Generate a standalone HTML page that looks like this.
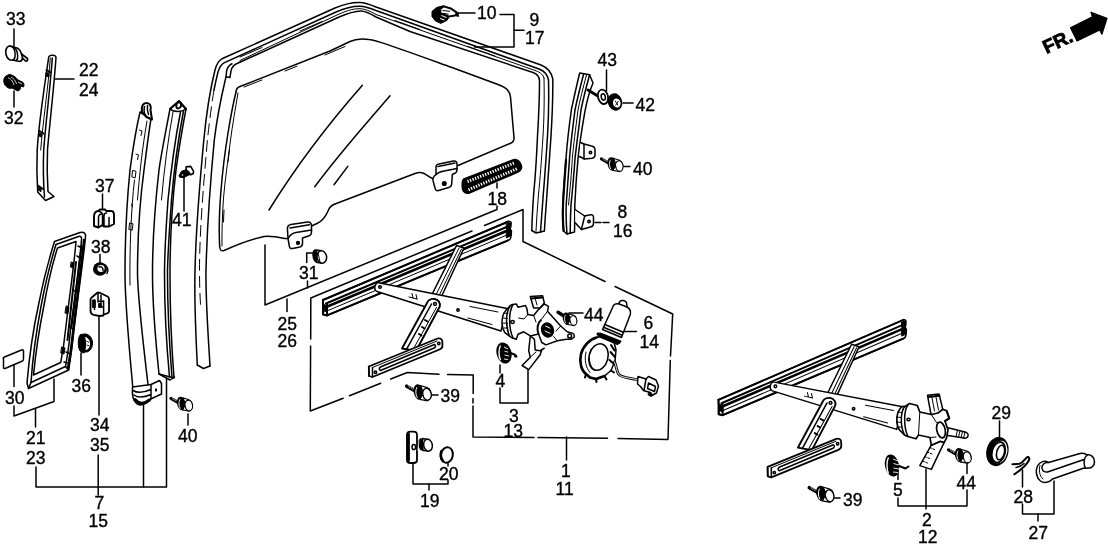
<!DOCTYPE html>
<html>
<head>
<meta charset="utf-8">
<title>Door Window Regulator Diagram</title>
<style>
html,body{margin:0;padding:0;background:#fff;}
body{width:1108px;height:548px;overflow:hidden;font-family:"Liberation Sans",sans-serif;}
svg{display:block;will-change:transform;transform:translateZ(0);}
svg text{font-family:"Liberation Sans",sans-serif;font-size:17.5px;fill:#000;stroke:#000;stroke-width:0.35px;}
.l{stroke:#000;stroke-width:1.5;fill:none;stroke-linecap:round;stroke-linejoin:round;}
.t{stroke:#000;stroke-width:1;fill:none;stroke-linecap:round;stroke-linejoin:round;}
.h{stroke:#000;stroke-width:2;fill:none;stroke-linecap:round;stroke-linejoin:round;}
.w{stroke:#000;stroke-width:1.5;fill:#fff;stroke-linecap:round;stroke-linejoin:round;}
.k{stroke:#000;stroke-width:1;fill:#000;stroke-linejoin:round;}
</style>
</head>
<body>
<svg width="1108" height="548" viewBox="0 0 1108 548">
<rect x="0" y="0" width="1108" height="548" fill="#fff"/>

<!-- ====== LABELS ====== -->
<g id="labels">
<text x="6" y="25">33</text>
<text x="4" y="124">32</text>
<text x="79" y="75.5">22</text>
<text x="79" y="96">24</text>
<text x="95" y="191.5">37</text>
<text x="91" y="252.5">38</text>
<text x="172" y="226">41</text>
<text x="5" y="403.5">30</text>
<text x="71.5" y="391.5">36</text>
<text x="26" y="444">21</text>
<text x="26" y="463.5">23</text>
<text x="90" y="431">34</text>
<text x="90" y="450.5">35</text>
<text x="94.5" y="508.5">7</text>
<text x="88.5" y="527">15</text>
<text x="178" y="442">40</text>
<text x="477" y="19">10</text>
<text x="529.5" y="26">9</text>
<text x="525" y="44">17</text>
<text x="487.5" y="205">18</text>
<text x="299" y="279">31</text>
<text x="277.5" y="329.5">25</text>
<text x="277.5" y="346.5">26</text>
<text x="440.5" y="402">39</text>
<text x="495.5" y="386.5">4</text>
<text x="509" y="422">3</text>
<text x="503.5" y="436.5">13</text>
<text x="561" y="476.5">1</text>
<text x="555.5" y="495">11</text>
<text x="420" y="507">19</text>
<text x="439" y="480">20</text>
<text x="597.5" y="66">43</text>
<text x="635.5" y="111">42</text>
<text x="633" y="174.5">40</text>
<text x="617.5" y="218">8</text>
<text x="613" y="237">16</text>
<text x="584" y="321">44</text>
<text x="643.5" y="329">6</text>
<text x="639.5" y="348">14</text>
<text x="991.5" y="419">29</text>
<text x="893" y="496">5</text>
<text x="956.5" y="489">44</text>
<text x="922" y="525.5">2</text>
<text x="918" y="543">12</text>
<text x="843" y="505.5">39</text>
<text x="1013.5" y="502.5">28</text>
<text x="1028.5" y="538.5">27</text>
</g>

<!-- ====== LEADERS / BRACKETS ====== -->
<g id="leaders" class="l">
<path d="M14 29V46"/>
<path d="M14 91V107"/>
<path d="M54 79H74"/>
<path d="M102.5 194V209"/>
<path d="M100 254.5V264"/>
<path d="M184 175V211"/>
<path d="M14 365V386.5"/>
<path d="M81 353V375"/>
<path d="M99 315V415"/>
<path d="M98.200 455V495"/>
<path d="M36 467V487H166.5V379"/>
<path d="M143.5 402V487"/>
<path d="M14 406V416L54 401.500V379"/>
<path d="M35.500 409V427"/>
<path d="M188 414V425"/>
<!-- 10 / 9 / 17 -->
<path d="M458 13H475"/>
<path d="M500 14.500H514V47H474.500"/>
<path d="M514 30.300H524"/>
<!-- 18 -->
<path d="M497 183V188"/>
<!-- 25/26 bracket -->
<path d="M265 245V305L497 209.5V206"/>
<path d="M287 299V311.5"/>
<path d="M307.5 281V288"/>
<!-- 39 -->
<path d="M432 395H438"/>
<!-- 4 / 3 / 13 -->
<path d="M500 365V373"/>
<path d="M500 388V403H528V370"/>
<!-- 1 / 11 -->
<path d="M566.5 437V460"/>
<!-- 19 / 20 -->
<path d="M413 462V484H448V480"/>
<path d="M429 484V490"/>
<path d="M448 461V466"/>
<!-- 43 42 40 8 -->
<path d="M606.5 70V91"/>
<path d="M623 103H633"/>
<path d="M624 166.5H630"/>
<path d="M595 222.5H609.5" stroke-dasharray="6 2"/>
<!-- 44, 6 -->
<path d="M569 313H583"/>
<path d="M623 331.5H636.5"/>
<!-- right group -->
<path d="M999.5 421V437"/>
<path d="M898 469V479.5"/>
<path d="M898 498V506H967V490"/>
<path d="M926 469V509"/>
<path d="M967 462V473.5"/>
<path d="M834 498H840"/>
<path d="M1022.5 470V487"/>
<path d="M1022.5 504V514H1054V481"/>
<path d="M1038 514V521"/>
</g>

<!-- ====== PHANTOM BOX ====== -->
<g id="box" class="l">
<path d="M310.800 298L472 231M484.500 225.500L523 209.500V241.500L605 281.500M615 286.500L672.700 314L670.500 356M670.300 360.500L668 439.500L618 438.500M607.500 438.300L538 437.500M534 437.400L473 437V406M473 403V398.500M473.200 393.500V375L447.500 374.500M439 374.200L407.300 372.500L390.700 379M380.700 383.200L349.500 395.700M343.200 398.200L310.300 411L310.600 346M310.700 339L310.800 298"/>
</g>


<!-- ====== PART 33 clip ====== -->
<g id="p33">
<path class="w" style="stroke-width:1.700" d="M9.500 46C6.500 46.500 5 50.500 6 54.500C7 58.500 10 61 13 60L19.500 61.500C21.500 61 22.500 59.500 22.500 58L25.500 61C27 61.500 28 60 27.500 58.500L21.500 54C20.500 50.500 18 48 15.500 47.500Z"/>
<path class="l" d="M9.500 46C12.500 46 14.500 49 15 52.500C15.500 56 14.500 59 13 60M12.500 46.500C15 47.500 17 50.500 17.500 54C18 57 17 60 16 60.800M21.500 54L22.500 58"/>
</g>
<!-- ====== PART 32 ====== -->
<g id="p32">
<path class="k" d="M6 76C3.5 77.5 3 82 5 85C7 88 10 89 12 88L18 91C20 90.5 21 88 20.5 86L23.5 87C24.5 85 24 83 22.5 82L18 80C16 77 12 74.5 9 74.5Z"/>
<path d="M8 78C10 78 13 81 14 85M11 77C13 78 16 81 16.5 84M18 82L22 84" stroke="#fff" stroke-width="0.8" fill="none"/>
</g>
<!-- ====== STRIP 22/24 ====== -->
<g id="p22" class="l">
<path class="w" d="M48.7 57C49.5 55 55 54.5 56 57C54.5 82 49.5 125 47.5 150C46.8 168 47.5 184 48 191.5L54 196.5L45.5 200.5L37.7 192C36.8 178 36.6 165 37.2 150C39 120 45.5 80 48.7 57Z"/>
<path d="M52.3 58C50.5 85 45.5 125 43.7 150C43 168 43.6 186 44.5 197"/>
<path class="t" d="M50.3 58C48.5 85 42.5 125 40.7 150"/>
<path class="h" d="M46.5 70L50.5 72.5M39.5 131L43.5 133.5M38.5 186L43 189"/>
<path class="k" d="M46.5 72.5l2.5 1v3.5l-3-1zM39.3 133l2.3 1v3l-2.6-1zM38.5 187l2.5 1.2v3.5l-2.8-1.8z"/>
</g>
<!-- ====== SASH 7/15 (first) ====== -->
<g id="p7a" class="l">
<path class="w" d="M140 112C137 125 132 155 130 170C127.5 195 125 235 125 274C125 300 127 325 132.8 387.5L148.3 387C141.5 330 138 300 137.5 274C137.5 235 140 200 144 170C146 155 149 130 151 119Z"/>
<path class="w" style="stroke-width:2" d="M142 112C141 106 143 103 146.5 103C150 103 151.5 106 150.5 110L152 119.5L146.5 117Z"/>
<path d="M144.5 106.5C143.5 110 144 113.5 146.5 117M147.5 105.5C147 109 147.5 112 148.5 114.5"/>
<path class="t" d="M147 121C142 150 139.5 175 137.5 200M134.5 180C131 210 129.5 250 130 285"/>
<path class="t" d="M139.5 130l2.5 1l-1 4.5M136 154l2.5 1l-1 4.5M133 170.500l3 .8l-.8 6.500l-3-.8zM131.500 204l1 3M130 223l3 .8l-.8 6.500l-3-.8z"/>
<!-- bottom bracket -->
<g transform="translate(1 2)">
<path class="w" d="M131.500 385L150 382.500L158.500 378.500L160.500 381.500L160.500 392L147.500 398C146 402 139 404.500 135.500 401.500C132 398.500 131 391 131.500 385Z"/>
<path d="M150 382.500V397M132 388.500C136 391 143 390.500 150 387.500M133 393C137 396 143 395.500 150 392.500"/>
<path d="M134 397.500C137.500 402 143 402.500 148.500 398" stroke="#000" stroke-width="3" fill="none" stroke-linecap="round"/>
<ellipse cx="155" cy="388" rx="1.100" ry="1.800" fill="#000" stroke="none"/>
</g>
</g>
<!-- ====== SASH 7/15 (second) ====== -->
<g id="p7b" class="l">
<path class="w" d="M170 109C166 130 161 155 159 170C155 205 152.500 240 152.500 274C152.500 300 154 325 159 374L174 378C171 340 170 300 170 274C170 240 172.500 200 176 170C178 155 182 130 186 109L179 101Z"/>
<path d="M170 109C173 112 181 112.500 186 109"/>
<path class="h" d="M176.500 104.500c.5-2.500 4-3 4.500-.5c.3 2-1 4-3 4.500c-1.500 0-2-2-1.500-4"/>
<path class="h" d="M170 109L179 101L186 109"/>
<path d="M180.500 112C175 140 171 170 168 200C165.500 235 164.500 260 164.500 274C164.500 300 166 340 169.500 377"/>
<path d="M183.500 111C178 140 174 170 171.500 200C169 235 167.500 260 167.500 274C167.500 300 169 340 172 377.500"/>
<path class="t" d="M173 112C168 140 164 170 161.500 200"/>
<path d="M159 374L170 380L174.500 377"/>
</g>
<!-- ====== PART 41 ====== -->
<g id="p41">
<path class="k" d="M179 175.800L181.400 171.400L186.400 169.500L190.700 174.200L186.900 176L183.600 177.600L179.800 177.300Z"/>
<path class="w" style="stroke-width:1.600" d="M186.100 166.800L190.700 166.400L193.500 171.200L193.300 173.600L190.700 174.800L188.300 171.600L186.100 169.800Z"/>
<circle cx="182.500" cy="175" r="0.800" fill="#fff"/>
</g>
<!-- ====== PART 37 ====== -->
<g id="p37" class="l">
<path class="w" style="stroke-width:1.900" d="M94 226V217C94 213 96 211 98.500 211L100 209.500H105L106.500 211H111C113 211 114 213 114 215V224L109 226.500H104L102.500 225L98.500 227.500Z"/>
<path d="M98.500 227.500V218C98.500 215 100 213.500 102.500 214V225M104 226.500V216C104 214 105 213 106.500 213M109 226.500V217.500M98.500 211C100 212 102 212 102.500 214"/>
</g>
<!-- ====== PART 38 ====== -->
<g id="p38">
<ellipse cx="100" cy="269" rx="7" ry="6.800" fill="#000"/>
<ellipse cx="101" cy="268.500" rx="3.600" ry="3.400" fill="#fff"/>
<path class="l" d="M99 267C101 266 103.500 267.500 103 270.500M104 264.500C107.500 266 109 270 107 273.500"/>
</g>
<!-- ====== PART 34/35 ====== -->
<g id="p34" class="l">
<path class="w" style="stroke-width:1.800" d="M90.500 299.500C90.500 298.500 91 298 92 297.300L97 293C97.800 292.400 98.800 292.400 99.800 292.800L107.500 296.500C108.500 297 109 298 109 299V311C109 312.500 108 313.300 106.500 313.700L103.600 314.500V315.500L99.500 316L93.500 314.800C91.500 314.300 90.500 312.500 90.500 310.500Z"/>
<path d="M98 293V302M101 295V307M103.600 301V314.500M98 302C99.500 300.500 102.500 300.500 103.600 302M94.500 300V309.500M101 307H103.600"/>
<path class="k" d="M92.800 300h2.500v7.500h-2.500zM99 303.500h2v4h-2z"/>
</g>
<!-- ====== PART 36 ====== -->
<g id="p36">
<path class="k" d="M80.500 334.500C78 337 77.500 345 79.500 350C81 353 84 353.500 85.500 352C90 352.500 93 347 92.500 342C92 337 88 333.500 84.500 334Z"/>
<path d="M85 337C88.500 337.500 90.500 341 90 345C89.500 348.500 87.500 350 85.500 350C86.500 346 86.500 341 85 337Z" fill="#fff"/>
<path d="M86.500 341l2.500 1.500M86.800 345l2.500 .8" stroke="#000" stroke-width="0.900"/>
</g>
<!-- ====== PART 30 ====== -->
<path id="p30" class="w" d="M3.500 359.500C3 358.500 3.500 357.500 4.500 357L21.500 350C22.500 349.500 23.500 350 23.500 351V359C23.500 360 23 360.800 22 361.200L5 368.500C4 368.800 3.500 368.300 3.500 367.500Z"/>
<!-- ====== QUARTER FRAME 21/23 ====== -->
<g id="p21" class="l">
<path class="w" d="M54.500 241.500L80 232.500C83.500 231.500 86 233 85.500 236.500C84 255 78 295 74 330C72 350 70 362 68.700 370L28.500 388.500L27 383C29 360 33 330 38.500 305C43 282 48 262 54.500 241.500Z"/>
<path d="M57.500 248L76 241.500C74.500 262 69 300 65.500 330C64 345 62 356 60.700 362.500L33.500 375C35.500 355 39 330 43.500 308C47 288 52 265 57.500 248Z"/>
<path d="M56 244.500L78.500 236.500C80.500 236 82 237 81.500 239.500C80 260 74.500 300 70.500 330C69 347 67 358 65.500 366.500L31 382.500"/>
<path d="M31 382.500C32.500 360 36.500 330 41 306.500C45 285 50 264 56 244.500"/>
<path d="M84 240C82 262 77.500 295 73.500 328C71.500 348 69.500 360 68 368.500" stroke="#000" stroke-width="2.400" fill="none"/>
<path class="h" d="M81.500 246C79 270 75 300 71.500 326M76 262C73 290 70 315 67.500 340"/>
<path d="M78 246l4 2M77 256l4 2.500M73 290l4 2M69.500 327l4 2M66 352l3.500 1.500M64 362l4 1"/>
<path class="k" d="M71.500 262l2.500 1l-.8 5l-2.500-1zM66.500 306l2.500 1l-1.200 7l-2.500-1zM62 347l3 1l-1 6l-3-1z"/>
<path d="M28.500 388.500L31 382.500M68.700 370L65.500 366.500"/>
</g>


<!-- ====== BOLT SYMBOL ====== -->
<defs>
<g id="bh">
<ellipse cx="0" cy="0" rx="5" ry="7.900" transform="rotate(-12)" fill="#000"/>
<path d="M1.500 -6.500L8.500 -4.300C12 -3 13 2 12 5C11 8.300 8.500 9.300 6.500 8.300L1 7.300C4 4 4.500 -3 1.500 -6.500Z" fill="#fff" stroke="#000" stroke-width="1.300" stroke-linejoin="round"/>
<ellipse cx="8.300" cy="2.300" rx="4.200" ry="6" transform="rotate(-12 8.300 2.300)" fill="#fff" stroke="#000" stroke-width="1.300"/>
<path d="M2.500 -2.500L5.500 -1.700M2.800 3L5 3.600" stroke="#000" stroke-width="1" fill="none"/>
<path d="M-1.800 -4.800C-3.300 -2 -3.300 3 -1.300 5.800" stroke="#fff" stroke-width="1" fill="none"/>
</g>
<g id="bolt">
<path d="M-12 -5.800L-3 -0.800" stroke="#000" stroke-width="3.600" stroke-linecap="round" fill="none"/>
<path d="M-10.500 -6.800l1.800 3M-8 -5.400l1.800 3M-5.500 -4l1.800 3" stroke="#fff" stroke-width="0.600" fill="none"/>
<use href="#bh"/>
</g>
</defs>

<!-- ====== RUN CHANNEL 9/17 ====== -->
<g id="p9" class="l">
<!-- outer -->
<path d="M197.300 365C195.500 330 194.300 300 195 270C196 230 200 180 203.800 140C206.500 112 210.500 88 215 70C216.500 64 218.500 60.500 222 58.800L335 8C345 3.800 352 2.200 360 2.500C365 2.700 370 4.500 376 7L541 65C547 67.500 551.500 72 552.800 79C553 100 552 120 551 136C549.500 160 548 180 547 193.400C546 208 545 220 544.400 231"/>
<!-- second -->
<path d="M214 90C215.500 82 217 76 218 72C219.500 67 221.500 64 224.500 62.600L336 12C345 8 352 6 360 6.200C365 6.400 370 8 376 10.500L539 69C544.500 71 547.500 75 548.500 80C549 100 548.500 120 547.500 136C546 160 544.500 180 543.300 194C542.300 208 541.300 220 540.500 232"/>
<path class="t" d="M214 90C211.500 105 209 125 207.400 140C204 180 199.500 230 199.500 270C199.500 285 200 295 200.500 305" stroke-dasharray="11 6"/>
<!-- third (inner) -->
<path d="M210 366C208.500 340 205.500 300 206 270C207 230 210.500 180 214.300 140C217 118 221.500 96 225 81L226 76.800L230 77.400L231 70.800C232 67 234 65 236.500 63.800L338 17.500C346 14 353 11 361 11C366 11 371 14 376 17L410 31.500L533 72.500C537.500 74 539.500 77 539.500 81C539.500 100 538.500 120 537.500 136C536.500 160 535 180 533.700 193.400C532.700 208 532 220 531.800 230.500"/>
<path class="t" d="M240 60.500L337 15C345 11.500 352 8.600 360 8.700C365 8.800 370 11 376 14.500L536 70.800C540.500 72.500 543.500 75 544 78"/>
<path class="t" d="M544 78C544.500 100 544 120 543 136C541.500 160 540 180 538.500 194C537.500 208 536.500 220 536 231.500"/>
<path d="M531.800 230.500L536 233L540.500 232L544.400 231"/>
<path d="M226 76.800L226.700 70.500C227.500 67 229.500 65 232 63.800"/>
<path d="M197.300 365L203.500 368.500L210 366"/>
<path class="t" d="M240 57L262 47.500M300 31L322 21.500M395 20.500L420 29.500M468 46.500L495 56" />
</g>
<!-- ====== CLIP 10 ====== -->
<g id="p10">
<path class="k" d="M432 11.400L436.400 7.600L443.400 5.700L451.600 8.200L457.900 12.600L458.500 16.400L456 15.800L449 17L447.200 20.200L440.800 23.400L435.200 20.800L432 16.400Z"/>
<path d="M441.300 9.300L444 7.500L450.500 9.500L455.500 13L455 14.500L449 15.500L441.300 12.500Z" fill="#fff"/>
<path d="M442.500 10.500L450 11.300M443 13.300L448.500 14.300" stroke="#000" stroke-width="1.100" fill="none"/>
<path d="M441.500 15.500L446.500 17.500M440 18.500L444.500 20" stroke="#fff" stroke-width="1" fill="none"/>
</g>
<!-- ====== GLASS 25/26 ====== -->
<g id="p25" class="l">
<path d="M236 92C236 89.500 237.500 87.500 240 86.500L330 51L350 41.500C355 39 363 38.500 369 39.500C377 40.500 385 43.500 452 67.500L498 84.500C506 87.500 509.500 90 510.500 97C511.500 110 513 125 514 137.500C514.300 141 513 142.500 510 143.500L458 165.500"/>
<path d="M432.500 178.500C429 177 426 174.500 424 173.500C421 172 418.500 172 415 173.500L335 204C331 205.500 329.500 207.500 328.500 210C326 216 322 221.500 317 223.500L311.500 226"/>
<path d="M288 238.500L284.500 238.600C275 236.500 268 236 264 236.500C250 239.500 235 245.500 224 250.500C221.500 251.500 220 250 219.700 247C219 235 219.500 210 220.700 194C222.500 170 226 145 228.500 130C231 115 234 100 236 92"/>
<path class="t" d="M238 93C235.500 108 232.500 125 230.500 140C228 160 225 180 223.500 198C222.300 215 221.800 232 222 246"/>
<path class="t" d="M244 87L262 80M285 71L297 66.200M325 55L345 46.500M229.500 150L228 162M224 210L223.500 222"/>
<!-- reflections -->
<path d="M362.400 85.200C330 122 295 168 269 210"/>
<path d="M390 95.700C365 125 338 155 314.800 186.800"/>
<path d="M347.800 166.400L334 184.700"/>
<!-- bracket 1 -->
<path class="w" d="M287.500 230C287 227 288.500 225 291 224.500L307.500 222C310 221.700 311.500 223 311.500 225.500V231.500C311.500 234 310.500 235.500 308.500 236L302.500 238V243.500C302.500 245.500 301.500 246.500 300 247L292.500 248.500C290.500 248.800 289.500 248 289.300 246L288 238.500Z"/>
<path d="M288 238.500C290 235 292.500 233 296 232.500L311.500 230M290 228L309.500 224.800"/>
<circle cx="298" cy="243" r="1.400" fill="#000"/>
<!-- bracket 2 -->
<path class="w" d="M436 167.500C435.800 165.500 437 164.300 439 164L453.500 161C455.800 160.600 457 161.800 457 163.800V169.500C457 171.500 456 173 454.300 173.500L452.300 174.500L451.700 184C451.500 186 450.500 187 448.800 187.500L438.500 190.500C436.500 191 435.300 190 435 188L433 180.500C432.500 178 433.500 176.500 436 174.500Z"/>
<path d="M436 174.500C438 172.500 441 171.500 444 171L457 168.500M438 166.500L455 163"/>
<circle cx="444.300" cy="183.500" r="1.800" fill="#000"/>
</g>
<g id="p31">
<ellipse cx="315.800" cy="256" rx="3.400" ry="6.800" transform="rotate(-8 315.800 256)" fill="#000"/>
<path class="w" d="M316.500 250L321.500 250.800L322 263L317 262.500Z"/>
<ellipse cx="321.800" cy="257" rx="4.800" ry="6.200" transform="rotate(-8 321.800 257)" class="w"/>
<path class="t" d="M318 253L320 262"/>
<path class="l" d="M306.700 262.500V253H312.500"/>
</g>
<!-- ====== STRIP 18 ====== -->
<g id="p18">
<path d="M463 178.500L513.400 159C517 158 521.500 161 522.300 166.600C522.500 169.500 521 171.500 518.700 172.500L469 194C465.500 194.500 462 192 461.800 189C461 184 461.500 180.500 463 178.500Z" fill="#000"/>
<path d="M467.500 181.500L515 162.800M468.500 189.800L517.500 168.500" stroke="#fff" stroke-width="3" stroke-dasharray="1.300 1.400" fill="none"/>
<path d="M467 185.500L517 165" stroke="#000" stroke-width="1.600" fill="none"/>
</g>
<!-- ====== REAR SASH 8/16 ====== -->
<g id="p8" class="l">
<path class="w" d="M579.700 73C576 88 573.500 100 571.500 109C568.500 130 567 145 566 158.700C564.300 180 563.300 195 562.800 204.700C562.500 215 562.800 225 563.500 231L567 234L574.500 232C574.800 222 574.800 212 574.800 204.700C575.500 190 576.500 175 578 158.700C579.500 145 582 128 584.700 112.600C587 100 590 90 593 83L589.600 74.800Z"/>
<path d="M583.500 74.500C580 88 577 100 575 110C572.500 130 570.500 145 569.500 158.700C568 180 566.800 195 566.200 205C565.800 215 566.300 225 567 234"/>
<path d="M566 160C564.500 180 563.500 195 563 205C562.700 215 563 225 563.700 231" stroke="#000" stroke-width="2.200" fill="none"/>
<path d="M589.600 74.800C586 88 583 100 581 110C578.500 130 576.500 145 575 158.700C573.500 180 572 195 571 205C570.500 215 570.300 225 570.200 233.300"/>
<path class="t" d="M586.500 75C583 88 580 100 578 110C575.500 130 573.500 145 572.300 158.700C571 180 569.500 195 568.500 205"/>
<!-- upper bracket -->
<path class="w" d="M580.500 142.500L584 144L591.500 146C594 146.500 595 148 595 150V155C595 157 594 158 592 158.300L584.500 159L579.500 156.500"/>
<path d="M584 144V159"/>
<circle cx="590.500" cy="152.500" r="1.200"/>
<!-- lower bracket -->
<path class="w" d="M575 209.500L584.700 216L590.500 214.800C592.500 214.500 593.500 215.500 593.500 217.500V223.500C593.500 225.500 592.500 226.500 590.500 227L581.400 229.400L575.500 223"/>
<path d="M584.700 216L581.400 229.400"/>
<circle cx="589" cy="221.500" r="1.200"/>
</g>
<!-- ====== 43 / 42 / 40 ====== -->
<path d="M588 90L597 95.500" stroke="#000" stroke-width="3" stroke-linecap="round"/>
<ellipse cx="603" cy="96.800" rx="5" ry="7.300" transform="rotate(-15 603 96.800)" class="w" style="stroke-width:1.800"/>
<ellipse cx="603.300" cy="97" rx="2" ry="3.200" transform="rotate(-15 603.300 97)" class="l"/>
<ellipse cx="615" cy="102" rx="7.200" ry="8.800" transform="rotate(-15 615 102)" fill="#000"/>
<ellipse cx="616.800" cy="103" rx="3.800" ry="4.600" transform="rotate(-15 616.800 103)" fill="#fff"/>
<path d="M615 100.500l3 5M618.500 101l-3 4.500" stroke="#000" stroke-width="0.900"/>
<use href="#bolt" transform="translate(612 164) scale(0.880)"/>
<use href="#bolt" transform="translate(181.500 403.500) scale(0.880)"/>


<!-- ====== REGULATOR (scissor) SYMBOL ====== -->
<defs>
<g id="reg" class="l">
<!-- upper track -->
<path class="w" d="M323 300L508.500 221.500C510.500 221 511.500 222.500 511 224.500L510 229L511.500 231.500L511 236C510.800 238.500 510 240 508 240.500L327 315.500L323.500 314.500Z"/>
<path class="h" d="M323 300L508.500 221.500M326 303.500L509 226"/>
<path d="M325 307.500L510 229.500" stroke="#000" stroke-width="2.600" fill="none"/>
<path class="t" d="M328 310.500L510.500 233.500"/>
<path class="h" d="M327 315.300L508 240.300"/>
<path class="h" d="M323 300V314.500L327 315.500V304"/>
<path class="k" d="M324 304.500l3.500 1.500v6l-3.500-1z"/>
<path class="k" d="M506.500 224l4-1.500l.5 5l-4 2zM506.500 232l4.500-2l.3 5.500l-4.500 2.200z"/>
<!-- upper cross arm (behind) -->
<path class="w" d="M456.500 245.500L464 248L438 304L428.500 301.500Z"/>
<path class="t" d="M459 248L432.500 302M461.500 249L435.500 303"/>
<!-- main arm -->
<path class="w" d="M377.500 282.500L507 308.500L501 331L377 291.500C375 290.500 374.500 288 375 286C375.500 284 376.500 283 377.500 282.500Z"/>
<circle cx="380" cy="287" r="1.300"/>
<path class="t" d="M412 293.500l1 4.500M416 294.500l1 4.500M409 297l8 2"/>
<circle cx="458" cy="310" r="1.200"/>
<path class="t" d="M470 306.500L498 312M468 318L492 324.500"/>
<!-- lower cross arm -->
<path class="w" style="stroke-width:1.900" d="M427 303C428 300.500 431 298.500 434.500 299C438.500 299.500 440.500 303 439.800 306.500L416 351L402 348.500Z"/>
<path class="l" d="M431.500 304L406.500 349.300"/>
<path class="t" d="M436.500 307.500L412.500 350.500"/>
<circle cx="435" cy="304" r="1.400"/>
<path class="h" d="M422 327l2.500 1.500M425 320l2.500 1.500M419 334l2.500 1.500"/>
</g>
<g id="ltrack" class="l">
<!-- lower track -->
<path class="w" style="stroke-width:1.800" d="M368.800 366.500L437.500 338.500C440 337.800 442 339 442.300 341.500L442.500 345.500C442.500 347.500 441.500 348.800 439.500 349.500L372.500 377L369 376Z"/>
<path d="M368.800 366.500V376M372.500 367.500V377"/>
<path d="M380.500 370.500L433 348.500C435.500 347.800 436.500 345.500 434.500 344.500L381.500 366.500C379 367.500 378.500 369.500 380.500 370.500Z"/>
<circle cx="375.500" cy="372.300" r="1.200"/>
<circle cx="438.800" cy="343.500" r="1.200"/>
<path class="t" d="M372.500 367.500L437 341"/>
</g>
</defs>
<use href="#reg"/>
<use href="#ltrack"/>
<use href="#reg" transform="translate(395.500 99.800) rotate(-0.450 323 300)"/>
<use href="#ltrack" transform="translate(398.800 100.300)"/>


<!-- ====== POWER GEAR HOUSING ====== -->
<g id="pgear" class="l">
<!-- top tab -->
<path class="w" d="M533.600 308L530.300 296.500L542.600 295.700L544.300 303L540 308Z"/>
<path d="M534.500 296.300L537 305" class="t"/>
<path d="M531 298.500L542.500 297.500" class="h"/>
<!-- lower tab -->
<path class="w" d="M530.300 336L528.700 350.700L530.300 357.200L522.100 365.500L528.700 369.600L540.200 354.800L541.800 349.900L544.300 348.200L540.200 350.700L535.200 349.900L534.400 339.200Z"/>
<path d="M530.300 357.200L536 352" class="t"/>
<!-- housing -->
<path class="w" d="M507.300 308.800L511.400 304.700L516.300 303.900L518 307.200L525.400 305.500L527 308.800L527.800 314.600L533.600 315.400L538.500 309.600L544.300 304L548.400 306.300L547.500 311.300L560.700 326L567.200 331.800L573 333.400C574.500 334 574.500 337 573.800 337.500L571.400 339.200L566.400 339.200L557.400 340.800L545.900 344.900L541.800 342.500L538.500 334L530.300 335.900L523.700 331.800L518 334.300L516.300 339.200L511.400 337.500L504.900 332.600C500.500 326 501 314 507.300 308.800Z"/>
<path d="M510 306C505.500 313 505.500 327 509.500 336M513 304.500C508.500 312 508.500 328 513 338"/>
<path class="t" d="M504 313l4 .5M503 318l4.500 .5M503 323l4.500 .3M504 328l4 0"/>
<ellipse cx="512.500" cy="322" rx="1.800" ry="1.400"/>
<circle cx="569.700" cy="336" r="1.900"/>
<path d="M527.800 314.600L524 319L518.500 318M533.600 315.400L536 322M547.500 311.300L542 318.500M557.400 340.800L553.500 336.500M560.700 326L556 331" class="t"/>
<path d="M538.500 334C536.500 329 537.500 323 541 320" class="h"/>
<!-- dark coupling -->
<ellipse cx="547.500" cy="330" rx="5.800" ry="7" transform="rotate(-20 547.500 330)" fill="#000"/>
<path d="M545.500 326l4.500 2.200M545 331l5 2.300" stroke="#fff" stroke-width="1"/>
</g>
<!-- ====== PART 4 ====== -->
<g id="p4">
<ellipse cx="504" cy="353" rx="7.400" ry="10.800" transform="rotate(-15 504 353)" fill="#000"/>
<path d="M500.500 345.500C498.500 349 498.500 356 500.500 360" stroke="#fff" stroke-width="1.400" fill="none"/>
<path d="M504 347l4 2M504.500 351l4.500 1.500M504.500 355l4.500 1M504 359l4 .5" stroke="#fff" stroke-width="0.900" fill="none"/>
<path class="h" d="M509 352.500L514.500 354.500L516.500 356.500"/>
<circle cx="515.500" cy="356" r="1.500" fill="#000"/>
</g>
<!-- bolt 44 (power) -->
<path d="M558 312.300L564 316" stroke="#000" stroke-width="3.400" stroke-linecap="round"/>
<use href="#bh" transform="translate(566.800 318.700) scale(0.800)"/>
<!-- bolt 39 (power) -->
<use href="#bolt" transform="translate(418.700 392)"/>
<!-- ====== MOTOR 6/14 ====== -->
<g id="p6" class="l">
<!-- cylinder -->
<path class="w" d="M613.500 305.500L602.500 329.500L621.500 337.500L630.300 314.500C631 311.500 629.500 308.500 627 307L626.500 302.500C625 300.300 621.500 299.800 620 301.300L618.500 303.800C616.500 303.500 614.500 304 613.500 305.500Z"/>
<path d="M618.500 303.800L627 307M604.800 324.500L623.300 332.300M603.600 327.300L622.300 335.200"/>
<!-- round housing -->
<path class="w" d="M596.500 337.500C590 339 583 346 581 354C579 363 581.500 370.500 586 374L590 377.500L596 379L604.500 376L611 370.500L615 361L616 350L614 342L610 338.500L603.400 336Z"/>
<path d="M596.500 337.500C590 339 583 346 581 354C579 363 581.500 370.500 586 374L590 377.500L596 379L604.500 376" stroke="#000" stroke-width="2.600" fill="none" stroke-linejoin="round"/>
<path d="M598 334L619 342.500" stroke="#000" stroke-width="3" fill="none"/>
<path class="h" d="M600 333.500L620.500 341.500M598.500 336L617.500 344"/>
<ellipse cx="598.500" cy="357" rx="9.500" ry="13.500" transform="rotate(14 598.500 357)" class="w"/>
<path d="M591 349C588 356 589 366 594.500 370.500" class="t"/>
<path d="M586 352C584 360 586 368 590 372.500" class="t"/>
<path class="h" d="M586 374l-1 3.500M596 379l.5 3M604.500 376l2 3.500M611 370.500l3 2"/>
<path class="h" d="M611 345L614.500 350.500M610.500 352L615 357M609.500 360L614 364"/>
<!-- wire -->
<path d="M614.500 362C616.500 366 616.500 371 618.500 374C621 377.500 627 377.500 637 379.500" stroke="#000" stroke-width="2.800" fill="none"/>
<path d="M614.500 362C616.500 366 616.500 371 618.500 374C621 377.500 627 377.500 637 379.500" stroke="#fff" stroke-width="0.900" fill="none"/>
<!-- connector -->
<path class="w" d="M638 376.500L646 379L648.500 376.500L656 380L658.500 386L656.500 393L651 396L650 392.500L643.500 390.500L640.500 386.500L637.500 384Z"/>
<path d="M646 379L644 390.500M648.500 383L655.500 386.500L654.500 391.500L647.500 388.500Z"/>
<path class="k" d="M649 392l3 1.300l-.8 3l-2.800-1.200z"/>
</g>
<!-- ====== 19 / 20 ====== -->
<g id="p19">
<path d="M410.500 431.700H413.500C415.500 431.700 417 433 417 435V460C417 462 415.500 463 413.500 463H410.500C408.500 463 407 462 407 460V435C407 433 408.500 431.700 410.500 431.700Z" class="w" style="stroke-width:1.800"/>
<path d="M408.300 434V460.500" stroke="#000" stroke-width="3.200" stroke-linecap="round"/>
<ellipse cx="413.800" cy="447" rx="1.800" ry="2.600" class="l"/>
<ellipse cx="421.300" cy="444.500" rx="3.300" ry="6.300" transform="rotate(-10 421.300 444.500)" fill="#000"/>
<path class="w" d="M422.500 438.500L428 439.500L428.500 451L423 450.500Z"/>
<ellipse cx="428" cy="445.200" rx="4.300" ry="6" transform="rotate(-10 428 445.200)" class="w"/>
<path d="M419 438l-1 13" stroke="#fff" stroke-width="0.800"/>
</g>
<ellipse cx="446.800" cy="455" rx="6" ry="7.800" transform="rotate(12 446.800 455)" class="w" style="stroke-width:2"/>
<path d="M441.500 451C440.500 454 441 458.500 443 461" class="h" style="stroke-width:2.600"/>


<!-- ====== MANUAL GEAR HOUSING ====== -->
<g id="mgear" class="l">
<!-- top tab -->
<path class="w" d="M931.300 416L927.500 395.300L939 394L942.800 409.400L938 414Z"/>
<path d="M931.500 395L934.500 411M935.500 394.500L938.500 410" class="t"/>
<path d="M928 397L939.500 395.800" class="h"/>
<!-- lower tab -->
<path class="w" d="M931.300 445.200L919.800 465.600L931.300 469.400L944.100 442.600L940.300 441.300Z"/>
<path class="t" d="M927 452l5 2M924.500 456.500l5 2M922.500 461l5 2M929.500 447.500l5 2" stroke-dasharray="2 1.500"/>
<!-- shaft -->
<path class="w" d="M944 426.800L965 431.900C967.500 432.500 968.500 434.500 968 436C967.500 437.800 966 438.500 964 438L943 434.800Z"/>
<path class="t" d="M957.500 430.300l-1.500 6.300M960 430.900l-1.500 6.300M962.500 431.500l-1.500 6.300M965 432.100l-1.500 6"/>
<!-- housing -->
<path class="w" style="stroke-width:1.700" d="M901 407.500C902.500 406 904 406 904.500 406.800L909.600 403.500L917.300 405.500L919.800 412L931.300 414.500L938 413L942.800 409.400L946.600 410.700L949.200 418.300L945 421L948 430L946.500 438L944.100 442.600L940.300 441.300L931.300 445.200L930 437.500L918.500 435L916 438.800L907 436.200L904.500 435L899.500 430C895.500 424 896 413 901 407.500Z"/>
<path d="M904.500 406.800C900.500 412 900 426 904.500 435M908 404.800C903.500 411 903.500 427 908 436.500"/>
<path class="t" d="M897.500 412l4 .5M896.500 417l4.500 .5M896.500 422l4.500 .3M897.500 427l4 0"/>
<ellipse cx="908.500" cy="419.500" rx="1.600" ry="1.300"/>
<ellipse cx="941" cy="430" rx="4.200" ry="8" transform="rotate(-12 941 430)" class="w" style="stroke-width:1.700"/>
<path d="M919.800 412L918.500 435M931.300 414.500L936.500 422.500M930 437.500L936 437" class="t"/>
<path d="M946.600 410.700L949.200 418.300L945 421" class="h"/>
</g>
<!-- ====== PART 5 ====== -->
<g id="p5">
<ellipse cx="892" cy="465.500" rx="7" ry="11.200" transform="rotate(-12 892 465.500)" fill="#000"/>
<path d="M888.500 457.500C886.500 461 886.500 469.500 888.500 473.500" stroke="#fff" stroke-width="1.400" fill="none"/>
<path d="M893 459l5 2M893.500 463.500l5.500 1.500M893.500 468l5.500 1M893 472l5 .5" stroke="#fff" stroke-width="0.900" fill="none"/>
<path class="h" d="M899 466L905.500 468.500L908.500 466.500"/>
</g>
<use href="#bolt" transform="translate(959.600 455.200) scale(0.920)"/>
<use href="#bolt" transform="translate(821.300 493.500)"/>
<!-- ====== PART 29 ====== -->
<g id="p29">
<ellipse cx="997.400" cy="451.500" rx="11" ry="14.800" transform="rotate(14 997.400 451.500)" fill="#000"/>
<ellipse cx="999.500" cy="452" rx="7.600" ry="11.500" transform="rotate(14 999.500 452)" fill="#fff"/>
<ellipse cx="998.500" cy="452.300" rx="6.500" ry="10.500" transform="rotate(14 998.500 452.300)" fill="none" stroke="#000" stroke-width="1.800"/>
<ellipse cx="1000.500" cy="452.500" rx="3.800" ry="7.500" transform="rotate(14 1000.500 452.500)" fill="none" stroke="#000" stroke-width="1.500"/>
</g>
<!-- ====== PART 28 ====== -->
<g id="p28" class="h">
<path d="M1012.400 464.300L1019.500 463.800C1023 463 1025 458.500 1027 457.300C1029 456.500 1030 458.500 1028.800 460.500C1027 464 1023 468.500 1014.300 474.300"/>
<path d="M1016 467.500C1019 467 1022 465.500 1024 463.500" class="l"/>
</g>
<!-- ====== PART 27 ====== -->
<g id="p27" class="l">
<path class="w" d="M1048.500 462.500L1080 453.500C1083 452.800 1085.500 453.500 1087 455C1091 454 1094.500 457.500 1094.500 461.500C1094.500 465.500 1091.500 468.500 1088 468C1086.500 468.300 1085 468.300 1084 468L1052.500 479C1049.500 482.500 1044 483.500 1040.500 481C1036.500 478 1035 471 1037.500 466C1040 461.500 1045 460 1048.500 462.500Z"/>
<path d="M1087 455C1084 457.500 1083 464 1085.500 468M1048.500 462.500C1044.500 462 1041.500 465 1042 468.500C1042.500 471.500 1045.500 473 1049 471.500L1084 459.500"/>
<path class="t" d="M1040 465.500C1038.500 470 1039.500 476 1043 479"/>
</g>
<!-- ====== FR ARROW ====== -->
<g id="fr">
<path d="M1070.500 27.700L1092.400 16.800L1091 12.400L1107 18.200L1101.900 34.300L1099.700 30L1077 40.900Z" fill="#000" stroke="#000" stroke-width="1.200" stroke-linejoin="round"/>
<text transform="translate(1046.500 54) rotate(-25)" style="font-size:19px;font-weight:bold;stroke-width:0.800px" x="0" y="0">FR.</text>
</g>

<!--PARTS-->

</svg>
</body>
</html>
